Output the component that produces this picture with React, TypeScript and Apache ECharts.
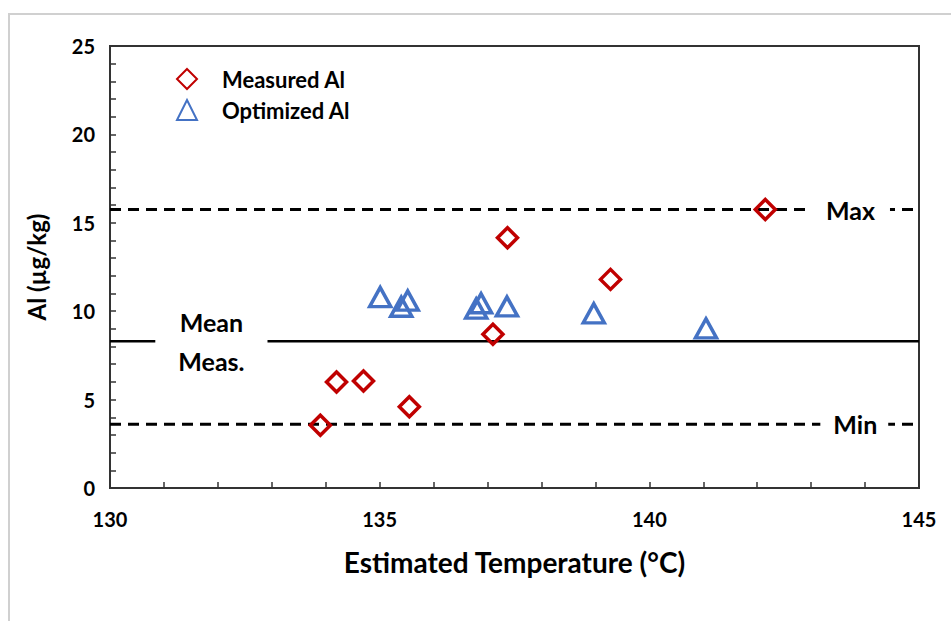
import React, { useEffect, useRef } from "react";
import * as echarts from "echarts";

// Measured Al (red diamonds): [temperature °C, Al µg/kg]
const measuredTemp = [133.9, 134.2, 134.7, 135.55, 137.1, 137.37, 139.28, 142.15];
const measuredAl = [3.55, 6.0, 6.05, 4.6, 8.7, 14.15, 11.8, 15.75];

// Optimized Al (blue triangles)
const optimizedTemp = [135.01, 135.4, 135.52, 136.79, 136.88, 137.36, 138.97, 141.05];
const optimizedAl = [10.8, 10.25, 10.6, 10.15, 10.45, 10.27, 9.88, 9.03];

// Reference levels
const maxLevel = 15.75;
const minLevel = 3.6;
const meanLevel = 8.3;

const xTicks = [130, 135, 140, 145];
const yTicks = [0, 5, 10, 15, 20, 25];

const FONT = "Lato";

export default function App() {
  const ref = useRef<HTMLDivElement>(null);

  useEffect(() => {
    if (!ref.current) return;
    const chart = echarts.init(ref.current, undefined, { renderer: "svg" });

    const measured = measuredTemp.map((t, i) => [t, measuredAl[i]]);
    const optimized = optimizedTemp.map((t, i) => [t, optimizedAl[i]]);
    const xMin = xTicks[0];
    const xMax = xTicks[xTicks.length - 1];

    const refLine = (name: string, y: number, dashed: boolean) => ({
      name,
      type: "line",
      data: [
        [xMin, y],
        [xMax, y],
      ],
      showSymbol: false,
      silent: true,
      z: 1,
      lineStyle: {
        color: "#000",
        width: dashed ? 3 : 2.5,
        type: dashed ? [11, 7] : "solid",
      },
    });

    const labelStyle = {
      show: true,
      position: "inside",
      fontFamily: FONT,
      fontWeight: "bold",
      fontSize: 25,
      color: "#000",
      opacity: 1,
      backgroundColor: "#fff",
    };

    chart.setOption({
      animation: false,
      backgroundColor: "#fff",
      textStyle: { fontFamily: FONT },
      grid: {
        left: 110,
        right: 32,
        top: 46,
        bottom: 133,
        show: true,
        borderColor: "#333",
        borderWidth: 2,
        backgroundColor: "transparent",
      },
      legend: {
        data: ["Measured Al", "Optimized Al"],
        orient: "vertical",
        left: 171,
        top: 63,
        itemWidth: 20,
        itemHeight: 20,
        itemGap: 9,
        textStyle: {
          fontFamily: FONT,
          fontWeight: "bold",
          fontSize: 22,
          color: "#000",
          padding: [0, 0, 0, 20],
        },
      },
      xAxis: {
        type: "value",
        min: xMin,
        max: xMax,
        interval: 5,
        name: "Estimated Temperature (°C)",
        nameLocation: "middle",
        nameGap: 60,
        nameTextStyle: {
          fontFamily: FONT,
          fontWeight: "bold",
          fontSize: 28,
          color: "#000",
          verticalAlign: "top",
        },
        axisLine: { show: true, lineStyle: { color: "#333", width: 2 } },
        axisTick: { show: true, inside: true, length: 6, lineStyle: { color: "#333", width: 1.5 } },
        minorTick: { show: true, splitNumber: 5, length: 6, lineStyle: { color: "#333", width: 1.5 } },
        splitLine: { show: false },
        axisLabel: {
          margin: 21,
          fontFamily: FONT,
          fontWeight: "bold",
          fontSize: 20,
          color: "#000",
        },
      },
      yAxis: {
        type: "value",
        min: yTicks[0],
        max: yTicks[yTicks.length - 1],
        interval: 5,
        name: "Al (µg/kg)",
        nameLocation: "middle",
        nameGap: 62,
        nameRotate: 90,
        nameTextStyle: {
          fontFamily: FONT,
          fontWeight: "bold",
          fontSize: 24,
          color: "#000",
        },
        axisLine: { show: true, lineStyle: { color: "#333", width: 2 } },
        axisTick: { show: true, inside: true, length: 6, lineStyle: { color: "#333", width: 1.5 } },
        minorTick: { show: true, splitNumber: 5, length: 6, lineStyle: { color: "#333", width: 1.5 } },
        splitLine: { show: false },
        axisLabel: {
          margin: 15,
          fontFamily: FONT,
          fontWeight: "bold",
          fontSize: 20,
          color: "#000",
        },
      },
      series: [
        refLine("Max line", maxLevel, true),
        refLine("Min line", minLevel, true),
        refLine("Mean line", meanLevel, false),
        {
          name: "Line labels",
          type: "scatter",
          silent: true,
          z: 4,
          symbolSize: 1,
          itemStyle: { color: "rgba(0,0,0,0)", opacity: 1 },
          data: [
            {
              value: [143.72, maxLevel],
              label: { ...labelStyle, formatter: "Max", padding: [2, 15, 2, 16] },
            },
            {
              value: [143.8, minLevel],
              label: { ...labelStyle, formatter: "Min", padding: [2, 11, 2, 13] },
            },
            {
              value: [131.88, meanLevel],
              label: {
                ...labelStyle,
                formatter: "Mean\nMeas.",
                lineHeight: 39,
                padding: [0, 23, 0, 23],
              },
            },
          ],
        },
        {
          name: "Measured Al",
          type: "scatter",
          z: 3,
          symbol: "diamond",
          symbolSize: 20,
          itemStyle: {
            color: "rgba(255,255,255,0)",
            borderColor: "#C00000",
            borderWidth: 3.5,
            opacity: 1,
          },
          data: measured,
        },
        {
          name: "Optimized Al",
          type: "scatter",
          z: 3,
          symbol: "triangle",
          symbolSize: [21, 19],
          itemStyle: {
            color: "rgba(255,255,255,0)",
            borderColor: "#4472C4",
            borderWidth: 3.5,
            opacity: 1,
          },
          data: optimized,
        },
      ],
      graphic: [
        {
          type: "rect",
          silent: true,
          shape: { x: 9, y: 14, width: 1000, height: 700 },
          style: { fill: "none", stroke: "#d0d0d0", lineWidth: 2 },
          z: -10,
        },
      ],
    });

    return () => chart.dispose();
  }, []);

  return (
    <div
      ref={ref}
      style={{ position: "fixed", left: 0, top: 0, width: 951, height: 621 }}
    />
  );
}
